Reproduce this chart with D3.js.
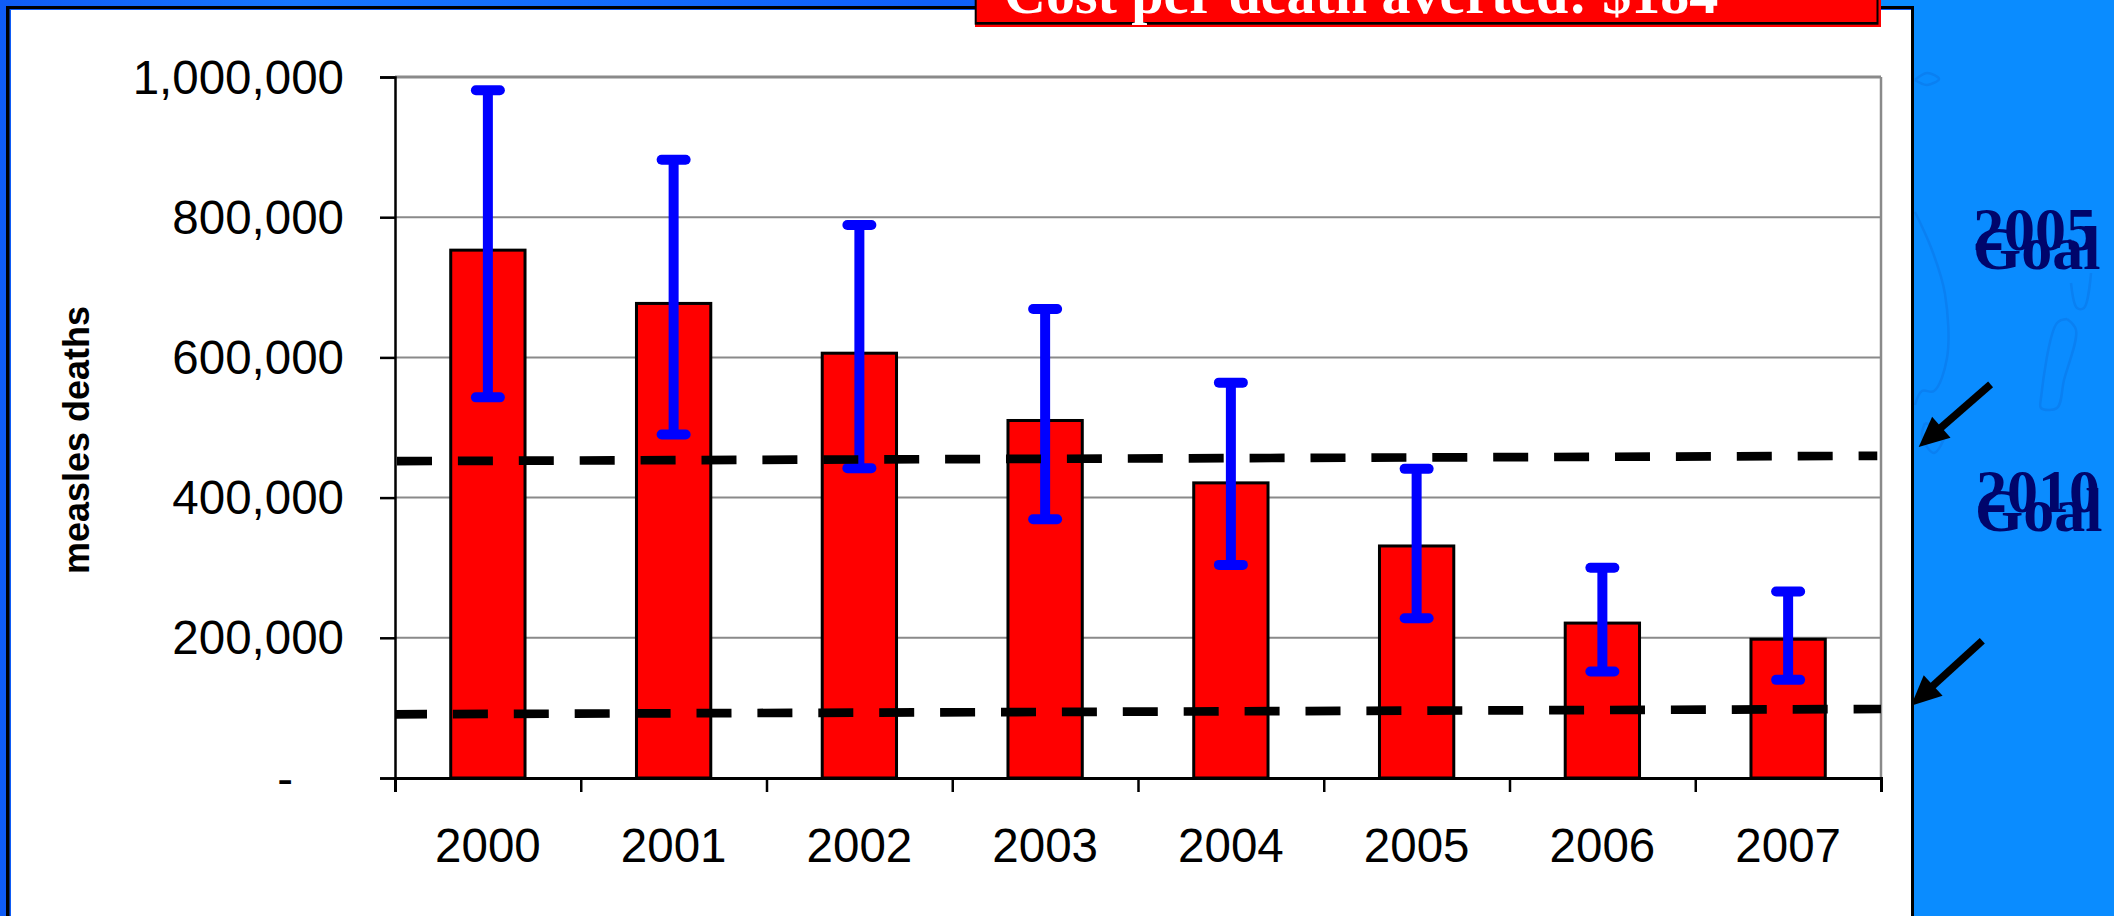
<!DOCTYPE html>
<html>
<head>
<meta charset="utf-8">
<script src="https://cdn.jsdelivr.net/npm/d3@7/dist/d3.min.js"></script>
<style>
html,body{margin:0;padding:0;background:#0a8cff;overflow:hidden}
svg{display:block}
</style>
</head>
<body>
<svg id="chart" width="2114" height="916"></svg>
<script>
const years = [2000, 2001, 2002, 2003, 2004, 2005, 2006, 2007];
const deaths = [753000, 677000, 606000, 510000, 421000, 331000, 221000, 198000];
const upperBound = [981000, 882000, 789000, 669000, 564000, 441000, 300000, 266000];
const lowerBound = [543000, 490000, 442000, 369000, 304000, 228000, 152000, 140000];
const yTicks = [0, 200000, 400000, 600000, 800000, 1000000];
const goal2005 = [{year: 1999.5, value: 452000}, {year: 2007.48, value: 459600}];
const goal2010 = [{year: 1999.5, value: 90900}, {year: 2007.5, value: 98400}];
const banner = "Cost per death averted: $184";
const yLabel = "measles deaths";

const svg = d3.select("#chart");
const plot = {left: 395, right: 1881, top: 77, bottom: 778};
const FONT = "'Liberation Sans', Arial, sans-serif";
const SERIF = "'Liberation Serif', 'Times New Roman', serif";

// Slide background
const defs = svg.append("defs");
const grad = defs.append("linearGradient").attr("id", "bg").attr("x1", 0).attr("x2", 1).attr("y1", 0).attr("y2", 0);
[[0, "#0f5cf5"], [0.14, "#1676ff"], [0.44, "#0f60fa"], [0.88, "#0a8cff"], [1, "#0a8cff"]]
  .forEach(([o, c]) => grad.append("stop").attr("offset", o).attr("stop-color", c));
svg.append("rect").attr("width", 2114).attr("height", 916).attr("fill", "url(#bg)");
svg.append("rect").attr("x", 1914).attr("width", 200).attr("height", 916).attr("fill", "#0a8cff");

// Faint map outlines on the right-hand panel
const mapLine = d3.line().curve(d3.curveCatmullRom);
const outlines = [
  [[1915,212],[1932,250],[1945,294],[1947,358],[1934,391],[1922,391],[1915,405]],
  [[1925,423],[1944,434],[1934,453],[1922,437],[1925,423]],
  [[2067,319],[2076,330],[2064,380],[2057,408],[2041,408],[2041,398],[2057,323],[2067,319]],
  [[2071,283],[2077,308],[2084,308],[2091,273]],
  [[1915,80],[1927,73],[1939,79],[1927,85],[1915,80]]
];
svg.append("g").selectAll("path").data(outlines).join("path")
  .attr("d", mapLine).attr("fill", "none").attr("stroke", "#0a80f2").attr("stroke-width", 2.5);

// White chart panel with black frame
svg.append("rect").attr("x", 6).attr("y", 6).attr("width", 1908).attr("height", 910).attr("fill", "#000");
svg.append("rect").attr("x", 9.5).attr("y", 9).attr("width", 1901.5).attr("height", 907).attr("fill", "#0f5cf5");
svg.append("rect").attr("x", 11).attr("y", 10).attr("width", 1900).attr("height", 906).attr("fill", "#fff");

// Scales
const x = d3.scaleBand().domain(years).range([plot.left, plot.right]).paddingInner(0.6).paddingOuter(0.3);
const xSpan = d3.scaleLinear().domain([1999.5, 2007.5]).range([plot.left, plot.right]);
const y = d3.scaleLinear().domain([0, 1000000]).range([plot.bottom, plot.top]);

// Grid
svg.append("g").selectAll("line").data(yTicks.filter(d => d > 0)).join("line")
  .attr("x1", plot.left).attr("x2", plot.right)
  .attr("y1", d => y(d)).attr("y2", d => y(d))
  .attr("stroke", "#8a8a8a").attr("stroke-width", d => d === 1000000 ? 3 : 2);
svg.append("line").attr("x1", plot.right).attr("x2", plot.right)
  .attr("y1", plot.top).attr("y2", plot.bottom)
  .attr("stroke", "#8a8a8a").attr("stroke-width", 2.5);

// Bars
svg.append("g").selectAll("rect").data(years).join("rect")
  .attr("x", d => x(d)).attr("width", x.bandwidth())
  .attr("y", (d, i) => y(deaths[i])).attr("height", (d, i) => y(0) - y(deaths[i]))
  .attr("fill", "#ff0000").attr("stroke", "#000").attr("stroke-width", 3);

// Axes
const yAxis = svg.append("g").attr("transform", `translate(${plot.left},0)`)
  .call(d3.axisLeft(y).tickValues(yTicks).tickSize(15).tickPadding(36)
    .tickFormat(d => d === 0 ? "-" : d3.format(",")(d)));
yAxis.selectAll("path,line").attr("stroke", "#000").attr("stroke-width", 2.5);
yAxis.selectAll("text").attr("font-family", FONT).attr("font-size", 47.5).attr("fill", "#000").attr("dy", "0.34em");
yAxis.selectAll(".tick").filter(d => d === 0).select("text").attr("x", -102);

const xTicks = svg.append("g").attr("transform", `translate(0,${plot.bottom})`)
  .call(d3.axisBottom(xSpan).tickValues(d3.range(1999.5, 2008, 1)).tickSize(14).tickFormat(""));
xTicks.selectAll("path,line").attr("stroke", "#000").attr("stroke-width", 3);
xTicks.selectAll("line").attr("stroke-width", 2.5);

const xLabels = svg.append("g").attr("transform", `translate(0,${plot.bottom})`)
  .call(d3.axisBottom(x).tickSize(0).tickPadding(50).tickFormat(d3.format("d")));
xLabels.select(".domain").remove();
xLabels.selectAll("text").attr("font-family", FONT).attr("font-size", 47.5).attr("fill", "#000");

// Error bars
const err = svg.append("g").selectAll("g").data(years).join("g");
const cx = d => x(d) + x.bandwidth() / 2;
err.append("line").attr("x1", cx).attr("x2", cx)
  .attr("y1", (d, i) => y(upperBound[i])).attr("y2", (d, i) => y(lowerBound[i]))
  .attr("stroke", "#0000ff").attr("stroke-width", 10);
[upperBound, lowerBound].forEach(bound => {
  err.append("line").attr("x1", d => cx(d) - 12).attr("x2", d => cx(d) + 12)
    .attr("y1", (d, i) => y(bound[i])).attr("y2", (d, i) => y(bound[i]))
    .attr("stroke", "#0000ff").attr("stroke-width", 10).attr("stroke-linecap", "round");
});

// Goal lines
const goalLine = d3.line().x(d => xSpan(d.year)).y(d => y(d.value));
svg.append("path").datum(goal2005).attr("d", goalLine).attr("fill", "none")
  .attr("stroke", "#000").attr("stroke-width", 8.7)
  .attr("stroke-dasharray", "35 25.9").attr("stroke-dashoffset", 58.9);
svg.append("path").datum(goal2010).attr("d", goalLine).attr("fill", "none")
  .attr("stroke", "#000").attr("stroke-width", 8.7)
  .attr("stroke-dasharray", "35 25.9").attr("stroke-dashoffset", 3);

// Y axis title
svg.append("text").attr("transform", "translate(88.5,440) rotate(-90)")
  .attr("text-anchor", "middle").attr("font-family", FONT).attr("font-weight", "bold")
  .attr("font-size", 36).attr("fill", "#000").text(yLabel);

// Banner clipped by the top of the slide
svg.append("rect").attr("x", 975).attr("y", 0).attr("width", 906).attr("height", 27).attr("fill", "#ff0000");
svg.append("rect").attr("x", 974.7).attr("y", 0).attr("width", 903.8).attr("height", 24.7).attr("fill", "#000");
svg.append("rect").attr("x", 976.7).attr("y", 0).attr("width", 899.8).attr("height", 22).attr("fill", "#ff0000");
svg.append("text").attr("x", 1004).attr("y", 13).attr("font-family", SERIF).attr("font-weight", "bold")
  .attr("font-size", 58).attr("fill", "#fff").text(banner);

// Goal labels
const goalLabels = [
  {text: "2005", x: 1973, y: 250}, {text: "Goal", x: 1973, y: 269},
  {text: "2010", x: 1976, y: 512}, {text: "Goal", x: 1975, y: 531}
];
svg.append("g").selectAll("text").data(goalLabels).join("text")
  .attr("x", d => d.x).attr("y", d => d.y)
  .attr("font-family", SERIF).attr("font-weight", "bold").attr("font-size", 62)
  .attr("fill", "#00056b").text(d => d.text);

// Arrows
const arrows = [
  {x1: 1990.6, y1: 384.3, x2: 1918.7, y2: 447},
  {x1: 1982.3, y1: 640.7, x2: 1911, y2: 705.7}
];
const arrowG = svg.append("g").selectAll("g").data(arrows).join("g")
  .attr("transform", d => `translate(${d.x2},${d.y2}) rotate(${Math.atan2(d.y1 - d.y2, d.x1 - d.x2) * 180 / Math.PI})`);
arrowG.append("line").attr("x1", 20).attr("y1", 0)
  .attr("x2", d => Math.hypot(d.x1 - d.x2, d.y1 - d.y2)).attr("y2", 0)
  .attr("stroke", "#000").attr("stroke-width", 7.5);
arrowG.append("path").attr("d", d3.line()([[0, 0], [30, -14], [30, 14]])).attr("fill", "#000");
</script>
</body>
</html>
